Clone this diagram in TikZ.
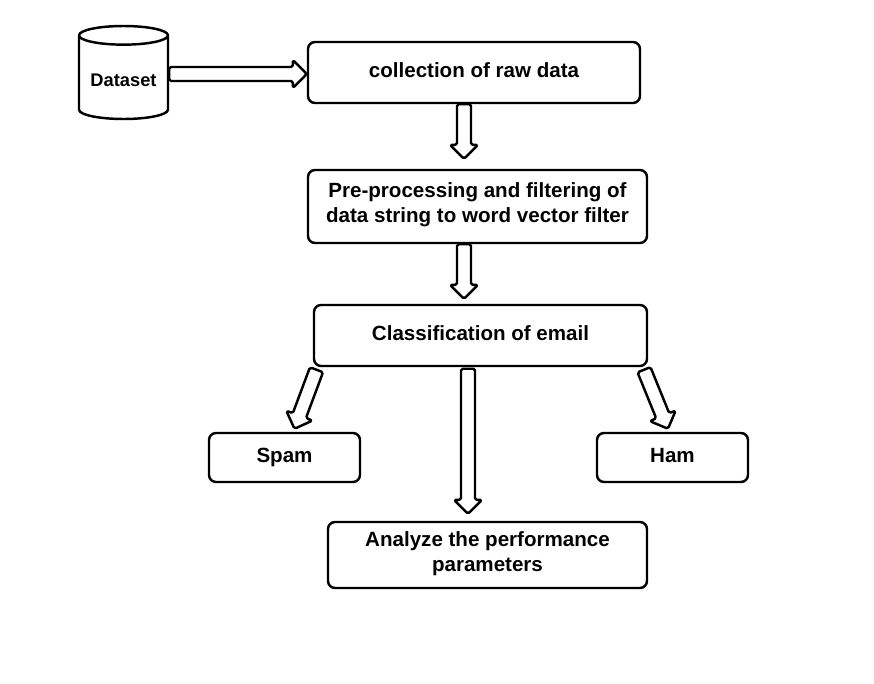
\documentclass[tikz,border=0pt]{standalone}
\usepackage{fontspec}
\setmainfont{Liberation Sans}
\usetikzlibrary{shapes,calc,positioning}

% hollow block arrow from #1 to #2
\newcommand{\fatarrow}[2]{%
  \coordinate (fa-h) at ($(#2)!0.28cm!(#1)$);
  \draw[fatarrow] ($(#1)!0.14cm!90:(#2)$) -- ($(fa-h)!0.14cm!90:(#2)$)
    -- ($(fa-h)!0.28cm!90:(#2)$) -- (#2) -- ($(fa-h)!0.28cm!-90:(#2)$)
    -- ($(fa-h)!0.14cm!-90:(#2)$) -- ($(#1)!0.14cm!-90:(#2)$) -- cycle;}

\begin{document}
\begin{tikzpicture}[
    box/.style={draw, line width=1.4pt, rounded corners=4pt, fill=white, align=center,
      font=\fontsize{11.7}{14.2}\selectfont\bfseries, execute at begin node=\strut},
    fatarrow/.style={draw, line width=1.4pt, fill=white, line join=round, rounded corners=1pt}]
    \useasboundingbox (0,0) rectangle (17.48,-13.68);

    % Dataset and main steps
    \node[cylinder, draw, line width=1.4pt, shape border rotate=90, aspect=0.24,
      minimum width=1.78cm, minimum height=1.86cm, anchor=shape center,
      font=\fontsize{10.4}{12}\selectfont\bfseries] (data) at (2.47,-1.45) {Dataset};
    \node[box, minimum width=6.64cm, minimum height=1.22cm] (raw) at (9.48,-1.45) {collection of raw data};
    \node[box, minimum width=6.78cm, minimum height=1.46cm] (pre) at (9.55,-4.13)
      {Pre-processing and filtering of\\data string to word vector filter};
    \node[box, minimum width=6.66cm, minimum height=1.22cm] (cls) at (9.61,-6.71) {Classification of email};

    % Results
    \node[box, minimum width=3.02cm, minimum height=0.98cm] (spam) at (5.69,-9.15) {Spam};
    \node[box, minimum width=3.02cm, minimum height=0.98cm] (ham) at (13.45,-9.15) {Ham};
    \node[box, minimum width=6.38cm, minimum height=1.32cm] (perf) at (9.75,-11.1)
      {Analyze the performance\\parameters};

    % Arrows
    \coordinate (a1) at (data.east |- 0,-1.48);
    \coordinate (a2) at (raw.west |- 0,-1.48);
    \fatarrow{a1}{a2}
    \coordinate (b1) at (9.28,0 |- raw.south);
    \coordinate (b2) at ($(9.28,0 |- pre.north)+(0,0.2)$);
    \fatarrow{b1}{b2}
    \coordinate (c1) at (9.28,0 |- pre.south);
    \coordinate (c2) at ($(9.28,0 |- cls.north)+(0,0.1)$);
    \fatarrow{c1}{c2}
    \coordinate (d1) at ($(9.36,0 |- cls.south)+(0,-0.03)$);
    \coordinate (d2) at ($(9.36,0 |- perf.north)+(0,0.14)$);
    \fatarrow{d1}{d2}
    \coordinate (e1) at ($(6.33,0 |- cls.south)+(0,-0.05)$);
    \coordinate (e2) at ($(5.89,0 |- spam.north)+(0,0.06)$);
    \fatarrow{e1}{e2}
    \coordinate (f1) at ($(12.88,0 |- cls.south)+(0,-0.05)$);
    \coordinate (f2) at ($(13.36,0 |- ham.north)+(0,0.06)$);
    \fatarrow{f1}{f2}
\end{tikzpicture}
\end{document}
